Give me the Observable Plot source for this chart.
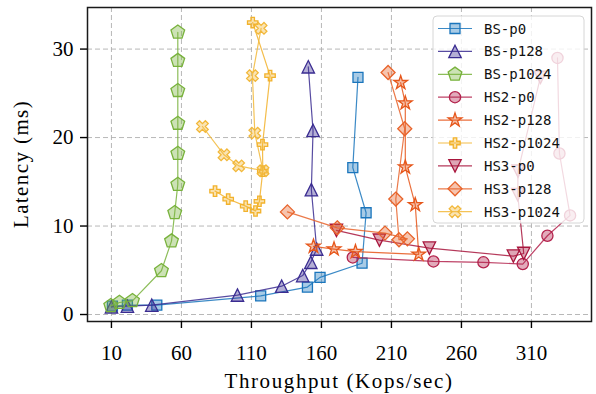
<!DOCTYPE html>
<html><head><meta charset="utf-8">
<script src="https://cdn.jsdelivr.net/npm/d3@7"></script>
<script src="https://cdn.jsdelivr.net/npm/@observablehq/plot@0.6"></script>
<style>body{margin:0;background:#fff} svg{display:block}</style>
</head><body><div id="chart"></div>
<script>
const seriesNames = ["BS-p0","BS-p128","BS-p1024","HS2-p0","HS2-p128","HS2-p1024","HS3-p0","HS3-p128","HS3-p1024"];
const seriesColors = ["#1a75bc","#3a2c91","#78b23c","#b3224c","#e6561a","#f2b22c","#a8163d","#e8632a","#f2b83a"];

const bsP0X = [10.7, 21.4, 42.4, 116.6, 150.0, 159.0, 189.0, 191.9, 182.4, 186.1];
const bsP0Y = [0.95, 1.06, 1.06, 2.1, 3.1, 4.2, 5.8, 11.5, 16.6, 26.8];
const bsP128X = [10.0, 21.4, 38.8, 100.0, 131.6, 146.6, 152.4, 156.6, 152.8, 154.0, 150.6];
const bsP128Y = [0.87, 0.95, 1.06, 2.2, 3.2, 4.4, 5.9, 7.4, 14.1, 20.8, 28.0];
const bsP1024X = [9.5, 15.7, 25.0, 45.7, 52.9, 55.2, 57.4, 57.4, 57.4, 57.4, 57.4, 57.4];
const bsP1024Y = [0.99, 1.36, 1.55, 4.95, 8.3, 11.5, 14.7, 18.2, 21.6, 25.3, 28.7, 31.9];
const hs2P0X = [182.4, 240.0, 275.7, 303.8, 321.4, 337.6, 330.0, 328.6];
const hs2P0Y = [6.45, 6.0, 5.9, 5.7, 8.9, 11.2, 18.2, 29.0];
const hs2P128X = [154.3, 169.0, 184.3, 229.5, 227.0, 219.9, 219.9, 216.6];
const hs2P128Y = [7.7, 7.4, 7.1, 6.8, 12.4, 16.65, 23.9, 26.2];
const hs2P1024X = [84.0, 93.4, 105.9, 112.9, 115.7, 118.1, 117.9, 123.3, 110.9];
const hs2P1024Y = [13.95, 13.05, 12.25, 11.7, 12.8, 16.2, 19.2, 27.0, 33.0];
const hs3P0X = [170.7, 201.4, 237.1, 297.1, 304.5, 300.2, 300.4, 316.4];
const hs3P0Y = [9.5, 8.4, 7.5, 6.6, 6.9, 13.55, 16.2, 26.8];
const hs3P128X = [135.7, 171.3, 205.4, 221.4, 215.4, 213.1, 219.5, 207.6];
const hs3P128Y = [11.6, 9.8, 9.2, 8.55, 8.45, 13.05, 21.0, 27.35];
const hs3P1024X = [75.0, 90.4, 100.9, 118.3, 112.4, 110.7, 116.9];
const hs3P1024Y = [21.25, 18.05, 16.8, 16.25, 20.5, 27.0, 32.35];

const xTicks = [10, 60, 110, 160, 210, 260, 310];
const yTicks = [0, 10, 20, 30];
const xLabel = "Throughput (Kops/sec)";
const yLabel = "Latency (ms)";

// custom marker shapes (unit coordinates, scaled by radius)
function poly(pts) {
  return {draw(ctx, size) {
    const r = Math.sqrt(size / Math.PI);
    pts.forEach(([x, y], i) => i ? ctx.lineTo(x * r, y * r) : ctx.moveTo(x * r, y * r));
    ctx.closePath();
  }};
}
const circleSym = {draw(ctx, size) { const r = Math.sqrt(size / Math.PI); ctx.moveTo(r, 0); ctx.arc(0, 0, r, 0, 2 * Math.PI); ctx.closePath(); }};
const squareSym = poly([[-1,-1],[1,-1],[1,1],[-1,1]]);
const triUpSym = poly([[0,-1],[1,1],[-1,1]]);
const triDownSym = poly([[0,1],[1,-1],[-1,-1]]);
const pentSym = poly(d3.range(5).map(k => { const a = -Math.PI/2 + k*2*Math.PI/5; return [Math.cos(a), Math.sin(a)]; }));
const starSym = poly(d3.range(10).map(k => { const a = -Math.PI/2 + k*Math.PI/5; const rr = k % 2 ? 0.382 : 1; return [rr*Math.cos(a), rr*Math.sin(a)]; }));
const diamondSym = poly([[0,-1],[1,0],[0,1],[-1,0]]);
const plusSym = poly([[-1,-3],[1,-3],[1,-1],[3,-1],[3,1],[1,1],[1,3],[-1,3],[-1,1],[-3,1],[-3,-1],[-1,-1]].map(([x,y]) => [x/3, y/3]));
const xSym = poly([[-1,-2],[0,-1],[1,-2],[2,-1],[1,0],[2,1],[1,2],[0,1],[-1,2],[-2,1],[-1,0],[-2,-1]].map(([x,y]) => [x/2, y/2]));

const symbols = [squareSym, triUpSym, pentSym, circleSym, starSym, plusSym, triDownSym, diamondSym, xSym];
const radii = [5, 6.2, 7.2, 5.6, 7.2, 5.2, 6.2, 7, 5.8];
const xs = [bsP0X, bsP128X, bsP1024X, hs2P0X, hs2P128X, hs2P1024X, hs3P0X, hs3P128X, hs3P1024X];
const ys = [bsP0Y, bsP128Y, bsP1024Y, hs2P0Y, hs2P128Y, hs2P1024Y, hs3P0Y, hs3P128Y, hs3P1024Y];

const seriesMarks = [];
seriesNames.forEach((name, i) => {
  const data = xs[i].map((x, j) => ({x, y: ys[i][j]}));
  seriesMarks.push(Plot.line(data, {x: "x", y: "y", stroke: seriesColors[i], strokeWidth: 1.2, strokeOpacity: 0.85}));
  seriesMarks.push(Plot.dot(data, {x: "x", y: "y", symbol: symbols[i], r: radii[i], fill: seriesColors[i], fillOpacity: 0.38, stroke: seriesColors[i], strokeWidth: 1.3}));
});

const W = 596, H = 394, mL = 87, mR = 5, mT = 7, mB = 73;
const chart = Plot.plot({
  width: W, height: H,
  marginLeft: mL, marginRight: mR, marginTop: mT, marginBottom: mB,
  style: {background: "white", fontFamily: "Liberation Serif", fontSize: "21px", color: "black"},
  x: {domain: [-7.1, 352.9], label: null},
  y: {domain: [-0.79, 34.7], label: null},
  marks: [
    Plot.gridX(xTicks, {stroke: "#b0b0b0", strokeOpacity: 1, strokeDasharray: "5,3", strokeWidth: 0.9}),
    Plot.gridY(yTicks, {stroke: "#b0b0b0", strokeOpacity: 1, strokeDasharray: "5,3", strokeWidth: 0.9}),
    ...seriesMarks,
    Plot.frame({stroke: "#1a1a1a", strokeWidth: 1.5}),
    Plot.axisX(xTicks, {tickSize: 7, tickPadding: 17, strokeWidth: 1.4, fontSize: 21, fontFamily: "Liberation Serif", label: null}),
    Plot.axisY(yTicks, {tickSize: 7, tickPadding: 7, strokeWidth: 1.4, fontSize: 21, fontFamily: "Liberation Serif", label: null})
  ]
});
document.getElementById("chart").appendChild(chart);

const svg = d3.select(chart);
svg.append("text").attr("x", (mL + W - mR) / 2).attr("y", 381).attr("text-anchor", "middle")
  .attr("dominant-baseline", "central").attr("font-family", "Liberation Serif").attr("font-size", 21)
  .attr("letter-spacing", 1.6).text(xLabel);
svg.append("text").attr("transform", `translate(21,${(mT + H - mB) / 2}) rotate(-90)`).attr("text-anchor", "middle")
  .attr("dominant-baseline", "central").attr("font-family", "Liberation Serif").attr("font-size", 21)
  .attr("letter-spacing", 1.4).text(yLabel);

// legend
const lg = svg.append("g");
lg.append("rect").attr("x", 433).attr("y", 16).attr("width", 151).attr("height", 207).attr("rx", 4)
  .attr("fill", "white").attr("fill-opacity", 0.8).attr("stroke", "#d6d6d6").attr("stroke-width", 1);
seriesNames.forEach((name, i) => {
  const cy = 28.5 + i * 22.9;
  lg.append("line").attr("x1", 438).attr("x2", 472).attr("y1", cy).attr("y2", cy)
    .attr("stroke", seriesColors[i]).attr("stroke-width", 1.2).attr("stroke-opacity", 0.85);
  lg.append("path").attr("transform", `translate(455,${cy})`)
    .attr("d", d3.symbol().type(symbols[i]).size(Math.PI * radii[i] * radii[i])())
    .attr("fill", seriesColors[i]).attr("fill-opacity", 0.38).attr("stroke", seriesColors[i]).attr("stroke-width", 1.3);
  lg.append("text").attr("x", 484).attr("y", cy).attr("dominant-baseline", "central").attr("text-anchor", "start")
    .attr("font-family", "DejaVu Sans Mono").attr("font-size", 14).attr("fill", "#111").text(name);
});
</script>
</body></html>
